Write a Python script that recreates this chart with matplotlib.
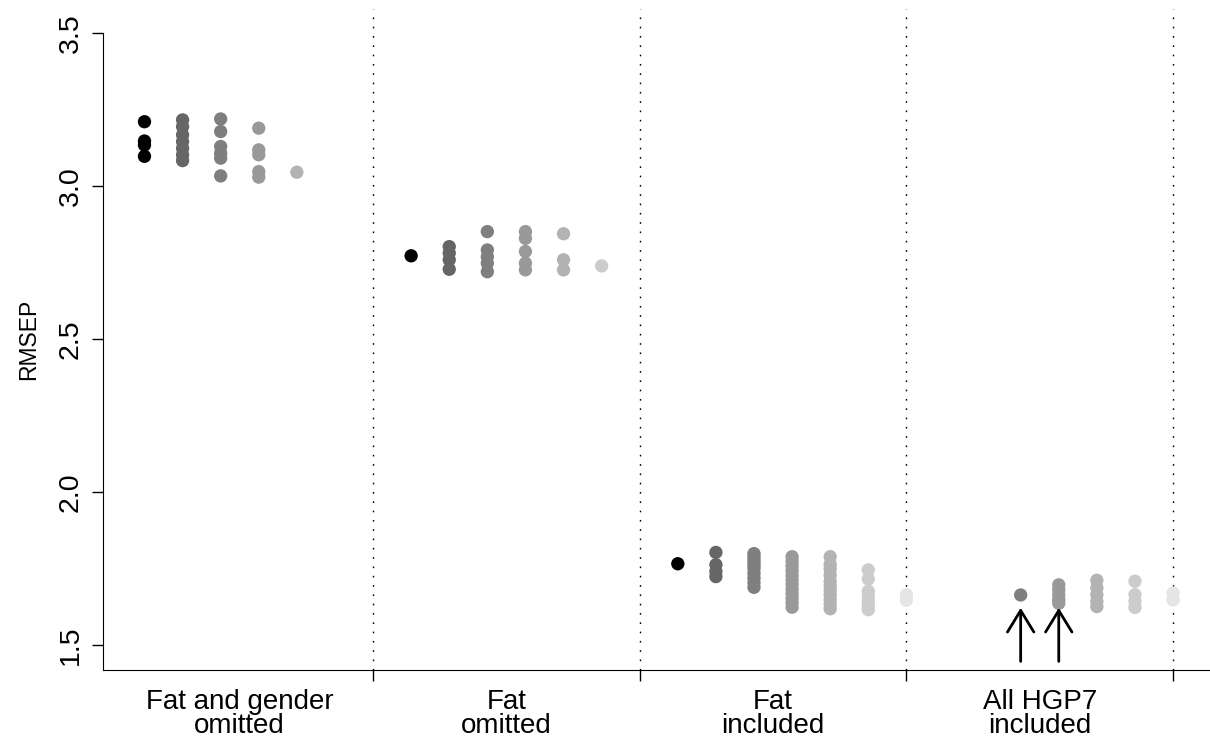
import matplotlib
matplotlib.use("Agg")
import matplotlib.pyplot as plt

plt.rcParams['font.family'] = ['Liberation Sans', 'DejaVu Sans']

# group names (x axis), grey level per slot inside a group
group_labels = ["Fat and gender\nomitted", "Fat\nomitted", "Fat\nincluded", "All HGP7\nincluded"]
slot_colors = ["#000000", "#666666", "#7f7f7f", "#999999", "#b3b3b3", "#cccccc", "#e5e5e5"]
n_slots = 7

# RMSEP values, one list per slot (slot 1..7), None = empty slot
fat_gender_omitted = [
    [3.211, 3.148, 3.135, 3.098],
    [3.217, 3.195, 3.168, 3.146, 3.124, 3.103, 3.084],
    [3.220, 3.179, 3.130, 3.108, 3.092, 3.034],
    [3.190, 3.119, 3.103, 3.048, 3.030],
    [3.046],
    None,
    None,
]
fat_omitted = [
    [2.773],
    [2.803, 2.782, 2.760, 2.729],
    [2.852, 2.792, 2.770, 2.749, 2.721],
    [2.852, 2.830, 2.787, 2.749, 2.727],
    [2.845, 2.760, 2.727],
    [2.740],
    None,
]
fat_included = [
    [1.767],
    [1.804, 1.764, 1.742, 1.725],
    [1.800, 1.790, 1.780, 1.770, 1.760, 1.750, 1.735, 1.720, 1.705, 1.690],
    [1.790, 1.775, 1.760, 1.745, 1.730, 1.715, 1.700, 1.685, 1.670, 1.655, 1.640, 1.625],
    [1.790, 1.765, 1.750, 1.730, 1.710, 1.695, 1.680, 1.665, 1.650, 1.635, 1.620],
    [1.747, 1.717, 1.677, 1.660, 1.645, 1.630, 1.617],
    [1.665, 1.648],
]
all_hgp7_included = [
    None,
    None,
    [1.665],
    [1.698, 1.682, 1.665, 1.650, 1.638],
    [1.713, 1.688, 1.666, 1.644, 1.627],
    [1.710, 1.666, 1.644, 1.624],
    [1.671, 1.649],
]
groups = [fat_gender_omitted, fat_omitted, fat_included, all_hgp7_included]

# arrows point at slots 3 and 4 of the last group
arrow_slots = [3, 4]
arrow_top, arrow_bottom = 1.623, 1.448

fig = plt.figure(figsize=(12.1, 7.43), dpi=100)
ax = fig.add_axes([0.0854, 0.0983, 0.9146, 0.8899])

for g, grp in enumerate(groups):
    for k, vals in enumerate(grp):
        if vals is None:
            continue
        x = g * n_slots + k + 1
        ax.scatter([x] * len(vals), vals, s=92, color=slot_colors[k],
                   edgecolors='none', zorder=3)

bounds = [(g + 1) * n_slots for g in range(len(groups))]
for b in bounds:
    ax.axvline(b, color='black', lw=1.0, linestyle=(0, (1.2, 5.5)), zorder=1)

for s in arrow_slots:
    x = (len(groups) - 1) * n_slots + s
    ax.annotate("", xy=(x, arrow_top), xytext=(x, arrow_bottom),
                arrowprops=dict(arrowstyle="->,head_length=1.55,head_width=0.95",
                                lw=2.0, color='black', shrinkA=0, shrinkB=0))

ax.set_xlim(-0.08, 28.97)
ax.set_ylim(1.42, 3.58)

ax.spines['top'].set_visible(False)
ax.spines['right'].set_visible(False)
ax.spines['left'].set_bounds(1.42, 3.5)

ax.set_yticks([1.5, 2.0, 2.5, 3.0, 3.5])
ax.set_yticklabels(["1.5", "2.0", "2.5", "3.0", "3.5"], rotation=90,
                   va='center', ha='right', fontsize=20.5)
ax.tick_params(axis='y', length=8, width=1, pad=6)

ax.set_xticks(bounds)
ax.set_xticklabels([])
ax.tick_params(axis='x', length=8, width=1)
centers = [g * n_slots + n_slots / 2 for g in range(len(groups))]
ax.set_xticks(centers, minor=True)
ax.set_xticklabels(group_labels, minor=True, fontsize=20, linespacing=0.9)
ax.tick_params(axis='x', which='minor', length=0, pad=14)

ax.text(-0.0672, 0.5, "RMSEP", transform=ax.transAxes, rotation=90,
        ha='center', va='center', fontsize=16.5)

fig.savefig("out.png", dpi=100)
